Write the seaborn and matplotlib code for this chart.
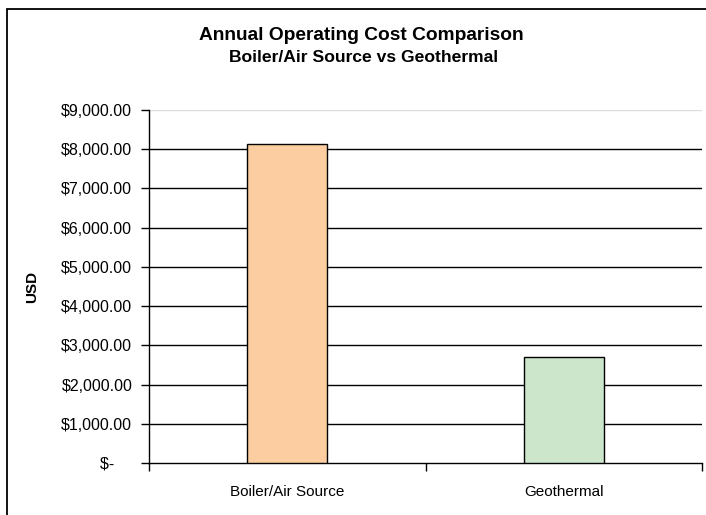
import matplotlib
matplotlib.use("Agg")
import matplotlib.pyplot as plt
import matplotlib.ticker as mticker
from matplotlib.patches import Rectangle
import seaborn as sns
import pandas as pd

# data
systems = ["Boiler/Air Source", "Geothermal"]
annual_cost = [8130, 2715]
bar_colors = ["#FCCDA1", "#CCE6CB"]
y_ticks = [0, 1000, 2000, 3000, 4000, 5000, 6000, 7000, 8000, 9000]


def money(v, pos):
    if v == 0:
        return "$-    "
    return "${:,.2f}".format(v)


sns.set_style("white")
plt.rcParams["font.family"] = ["Liberation Sans", "DejaVu Sans"]
plt.rcParams["text.color"] = "black"
plt.rcParams["axes.labelcolor"] = "black"
plt.rcParams["xtick.color"] = "black"
plt.rcParams["ytick.color"] = "black"

df = pd.DataFrame({"System": systems, "USD": annual_cost})

fig = plt.figure(figsize=(7.06, 5.15), dpi=100)
ax = fig.add_axes([149 / 706, 1 - 463 / 515, (702 - 149) / 706, (463 - 110) / 515])

# chart area border (cropped on right/bottom)
fig.patches.append(Rectangle((7 / 706, -0.05), 1.2, 1 - 9 / 515 + 0.05,
                             transform=fig.transFigure, fill=False,
                             edgecolor="black", linewidth=1.3, zorder=0))

sns.barplot(data=df, x="System", y="USD", hue="System", palette=bar_colors,
            saturation=1, width=0.29, edgecolor="black", linewidth=1.0,
            legend=False, ax=ax, zorder=3)

ax.set_ylim(0, 9000)
ax.set_xlim(-0.5, 1.5)
ax.set_yticks(y_ticks)
ax.yaxis.set_major_formatter(mticker.FuncFormatter(money))

# gridlines: black, the top one light gray
for v in y_ticks[1:]:
    col = "#DDDDDD" if v == 9000 else "black"
    ax.axhline(v, color=col, linewidth=1.0, zorder=1)

ax.set_xlabel("")
ax.set_ylabel("USD", fontsize=11, fontweight="bold", labelpad=16)

ax.tick_params(axis="y", which="major", direction="out", length=6, width=1,
               color="black", labelsize=11.5, pad=6, left=True)
ax.tick_params(axis="x", which="major", length=0, labelsize=11, pad=16)
ax.set_xticks([-0.5, 0.5, 1.5], minor=True)
ax.tick_params(axis="x", which="minor", direction="out", length=6, width=1,
               color="black", bottom=True)

for side in ["top", "right"]:
    ax.spines[side].set_visible(False)
for side in ["left", "bottom"]:
    ax.spines[side].set_color("black")
    ax.spines[side].set_linewidth(1.0)

fig.text(361 / 706, 1 - 35 / 515, "Annual Operating Cost Comparison",
         ha="center", va="center", fontsize=13.8, fontweight="bold")
fig.text(364 / 706, 1 - 57 / 515, "Boiler/Air Source vs Geothermal",
         ha="center", va="center", fontsize=12.6, fontweight="bold")

fig.savefig("out.png", dpi=100)
